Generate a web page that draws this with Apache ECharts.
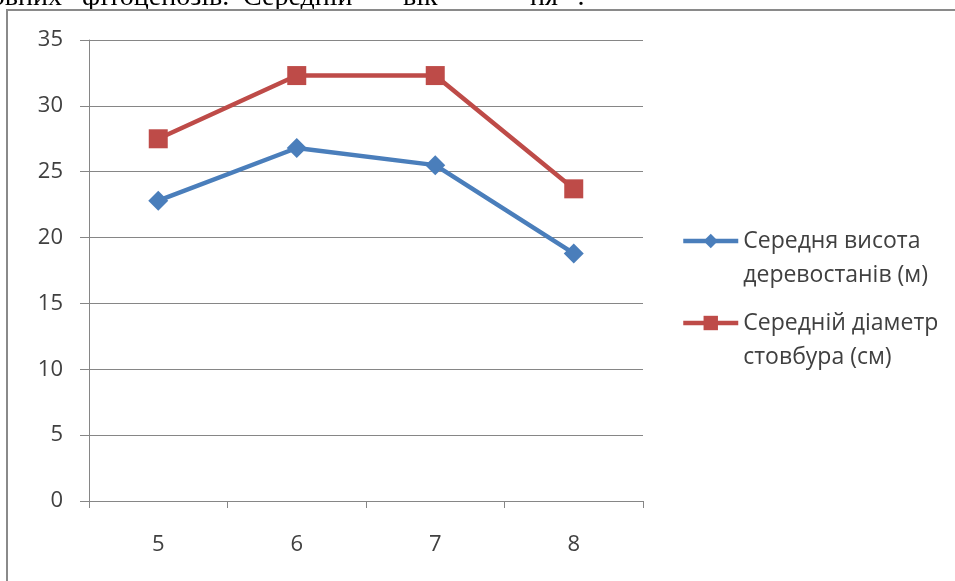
<!DOCTYPE html>
<html>
<head>
<meta charset="utf-8">
<script src="https://cdn.jsdelivr.net/npm/echarts@6/dist/echarts.min.js"></script>
<style>
html,body{margin:0;padding:0;background:#fff;}
#chart{width:955px;height:581px;}
</style>
</head>
<body>
<div id="chart"></div>
<script>
const categories = ['5', '6', '7', '8'];
const heightValues = [22.8, 26.8, 25.5, 18.8];
const diameterValues = [27.5, 32.3, 32.3, 23.7];
const seriesNames = ['Середня висота\nдеревостанів (м)', 'Середній діаметр\nстовбура (см)'];
const yTicks = { min: 0, max: 35, interval: 5 };
const headerWords = ['головних', 'фітоценозів.', 'Середній', 'вік', 'ня', '".'];
const headerX = [62, 82, 243, 403, 530, 566];
const headerAlign = ['right', 'left', 'left', 'left', 'left', 'left'];

const chart = echarts.init(document.getElementById('chart'));
const FONT = '"Open Sans", "Noto Sans", sans-serif';
const SERIF = '28px "Liberation Serif", "DejaVu Serif", serif';
const headerGraphics = headerWords.map((w, i) => ({
  type: 'text', x: headerX[i], y: -2,
  style: { text: w, font: SERIF, fill: '#000', align: headerAlign[i], verticalAlign: 'middle' }
}));

chart.setOption({
  animation: false,
  backgroundColor: '#fff',
  grid: { left: 89, right: 312, top: 40, bottom: 80, containLabel: false },
  graphic: [
    { type: 'rect', shape: { x: 7, y: 10, width: 1000, height: 600 }, style: { fill: 'none', stroke: '#8a8a8a', lineWidth: 2 }, z: 100 }
  ].concat(headerGraphics),
  legend: {
    orient: 'vertical',
    left: 681,
    top: 190,
    padding: 0,
    itemWidth: 55,
    itemHeight: 18,
    itemGap: -20,
    lineStyle: { width: 4.5 },
    formatter: name => '\n' + name,
    textStyle: { fontFamily: FONT, fontSize: 23, color: '#404040', lineHeight: 34 },
    data: seriesNames
  },
  xAxis: {
    type: 'category',
    data: categories,
    boundaryGap: true,
    axisLine: { lineStyle: { color: '#868686', width: 1 } },
    axisTick: { show: true, inside: false, length: 7, alignWithLabel: false, lineStyle: { color: '#868686' } },
    axisLabel: { fontFamily: FONT, fontSize: 22, color: '#404040', margin: 33 }
  },
  yAxis: {
    type: 'value',
    min: yTicks.min, max: yTicks.max, interval: yTicks.interval,
    axisLine: { show: true, lineStyle: { color: '#868686', width: 1 } },
    axisTick: { show: true, length: 9, lineStyle: { color: '#868686' } },
    axisLabel: { fontFamily: FONT, fontSize: 22, color: '#404040', margin: 26 },
    splitLine: { lineStyle: { color: '#868686', width: 1 } }
  },
  series: [
    {
      name: seriesNames[0], type: 'line', data: heightValues,
      symbol: 'diamond', symbolSize: 20,
      lineStyle: { color: '#4a7ebb', width: 4.5 },
      itemStyle: { color: '#4a7ebb' },
      z: 3
    },
    {
      name: seriesNames[1], type: 'line', data: diameterValues,
      symbol: 'rect', symbolSize: 19,
      lineStyle: { color: '#be4b48', width: 4.5 },
      itemStyle: { color: '#be4b48' },
      z: 3
    }
  ]
});
</script>
</body>
</html>
